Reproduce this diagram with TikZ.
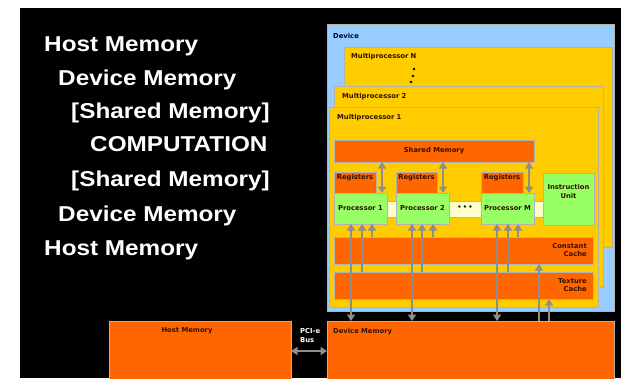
\documentclass[tikz,border=0pt]{standalone}
\usepackage{fontspec}
\newfontfamily\lsans{Liberation Sans}
\newfontfamily\dvs{DejaVu Sans}
\usetikzlibrary{arrows.meta}
\definecolor{devblue}{HTML}{99CCFF}
\definecolor{mpyel}{HTML}{FFCC00}
\definecolor{orng}{HTML}{FF6600}
\definecolor{grn}{HTML}{99FF66}
\definecolor{pale}{HTML}{FFFFCC}
\definecolor{agray}{HTML}{8E8E8E}
\definecolor{dtext}{HTML}{331100}
\definecolor{ntext}{HTML}{000033}
\begin{document}
\begin{tikzpicture}[x=1pt,y=-1pt,
  box/.style={anchor=north west, inner sep=0pt, outer sep=0pt, draw=black!30, line width=0.6pt},
  small/.style={font=\dvs\bfseries\fontsize{6.8}{8.8}\selectfont, inner sep=0pt},
  big/.style={font=\lsans\bfseries\fontsize{21.5}{24}\selectfont, text=white, inner sep=0pt, xscale=1.13, anchor=base west},
  arr/.style={draw=agray, line width=1.7pt, -{Triangle[length=6.5pt,width=8pt]}},
  darr/.style={draw=agray, line width=1.7pt, {Triangle[length=6.5pt,width=8pt]}-{Triangle[length=6.5pt,width=8pt]}}]
\useasboundingbox (0,0) rectangle (621,378);
\clip (0,0) rectangle (621,378);
\fill[white] (0,0) rectangle (621,378);
\fill[black] (20,8) rectangle (621,378);
% left text
\node[big] (l1) at (44,51) {Host Memory};
\node[big] (l2) at (58,85) {Device Memory};
\node[big] (l3) at (71,118) {[Shared Memory]};
\node[big] (l4) at (90,151) {COMPUTATION};
\node[big] (l5) at (71,186) {[Shared Memory]};
\node[big] (l6) at (58,221) {Device Memory};
\node[big] (l7) at (44,255) {Host Memory};
% device
\node[box, fill=devblue, minimum width=287pt, minimum height=287pt] (dev) at (327,24) {};
\node[small, text=ntext, anchor=west] (devt) at (333,36) {Device};
\node[box, fill=mpyel, minimum width=268pt, minimum height=200pt] (mpN) at (344,47) {};
\node[small, text=dtext, anchor=west] (mpNt) at (351,57) {Multiprocessor N};
\fill[black] (414,69) circle (1.3) (413,76) circle (1.3) (411,82) circle (1.3);
\node[box, fill=mpyel, minimum width=269pt, minimum height=201pt] (mp2) at (334,86) {};
\node[small, text=dtext, anchor=west] (mp2t) at (342,97) {Multiprocessor 2};
\node[box, fill=mpyel, minimum width=269pt, minimum height=200pt] (mp1) at (329,107) {};
\node[small, text=dtext, anchor=west] (mp1t) at (337,118) {Multiprocessor 1};
% shared memory
\node[box, fill=orng, minimum width=200pt, minimum height=22pt, small, text=dtext] (smem) at (334,140) {Shared Memory};
% registers
\node[box, fill=orng, minimum width=42pt, minimum height=21pt] (reg1) at (334,172) {};
\node[box, fill=orng, minimum width=41pt, minimum height=21pt] (reg2) at (396,172) {};
\node[box, fill=orng, minimum width=42pt, minimum height=21pt] (regM) at (481,172) {};
\node[small, text=dtext] (reg1t) at (355,178) {Registers};
\node[small, text=dtext] (reg2t) at (416.5,178) {Registers};
\node[small, text=dtext] (regMt) at (502,178) {Registers};
% strip
\node[box, fill=pale, minimum width=156pt, minimum height=16pt] (strip) at (387,201) {};
% processors
\node[box, fill=grn, minimum width=53pt, minimum height=31pt, small, text=dtext] (proc1) at (334,193) {Processor 1};
\node[box, fill=grn, minimum width=53pt, minimum height=31pt, small, text=dtext] (proc2) at (396,193) {Processor 2};
\node[box, fill=grn, minimum width=53pt, minimum height=31pt, small, text=dtext] (procM) at (481,193) {Processor M};
\node[small, text=dtext] (dots) at (465,208) {\textbullet\,\textbullet\,\textbullet};
\node[box, fill=grn, minimum width=51pt, minimum height=52pt] (iu) at (543,173) {};
\node[small, text=dtext, align=center] (iut) at (568.5,191.5) {Instruction\\Unit};
% caches
\node[box, fill=orng, minimum width=259pt, minimum height=27pt] (ccache) at (334,237) {};
\node[small, text=dtext, align=right, anchor=east] (cct) at (587,250) {Constant\\Cache};
\node[box, fill=orng, minimum width=259pt, minimum height=27pt] (tcache) at (334,272) {};
\node[small, text=dtext, align=right, anchor=east] (tct) at (587,285) {Texture\\Cache};
% memories
\node[box, fill=orng, minimum width=287pt, minimum height=70pt] (dmem) at (327,321) {};
\node[small, text=dtext, anchor=west] (dmemt) at (333,332) {Device Memory};
\node[box, fill=orng, minimum width=182pt, minimum height=70pt] (hmem) at (109,321) {};
\node[small, text=dtext] (hmemt) at (187,331) {Host Memory};
\node[small, text=white, align=left, anchor=west] (pci) at (300,335.5) {PCI-e\\Bus};
% arrow x positions
\coordinate (s1) at (382,0); \coordinate (s2) at (443,0); \coordinate (sM) at (529,0);
\coordinate (d1) at (351,0); \coordinate (t1) at (362,0); \coordinate (c1) at (372,0);
\coordinate (d2) at (412,0); \coordinate (t2) at (422,0); \coordinate (c2) at (433,0);
\coordinate (dM) at (497,0); \coordinate (tM) at (508,0); \coordinate (cM) at (518,0);
\coordinate (cc) at (539,0); \coordinate (tc) at (549,0);
\coordinate (py) at (0,351);
% arrows
\draw[darr] (smem.south -| s1) -- (proc1.north -| s1);
\draw[darr] (smem.south -| s2) -- (proc2.north -| s2);
\draw[darr] (smem.south -| sM) -- (procM.north -| sM);
\draw[darr] (dmem.north -| d1) -- (proc1.south -| d1);
\draw[arr] (tcache.north -| t1) -- (proc1.south -| t1);
\draw[arr] (ccache.north -| c1) -- (proc1.south -| c1);
\draw[darr] (dmem.north -| d2) -- (proc2.south -| d2);
\draw[arr] (tcache.north -| t2) -- (proc2.south -| t2);
\draw[arr] (ccache.north -| c2) -- (proc2.south -| c2);
\draw[darr] (dmem.north -| dM) -- (procM.south -| dM);
\draw[arr] (tcache.north -| tM) -- (procM.south -| tM);
\draw[arr] (ccache.north -| cM) -- (procM.south -| cM);
\draw[arr] (dmem.north -| cc) -- (ccache.south -| cc);
\draw[arr] (dmem.north -| tc) -- (tcache.south -| tc);
\draw[darr] (hmem.east |- py) -- (dmem.west |- py);
\end{tikzpicture}
\end{document}
